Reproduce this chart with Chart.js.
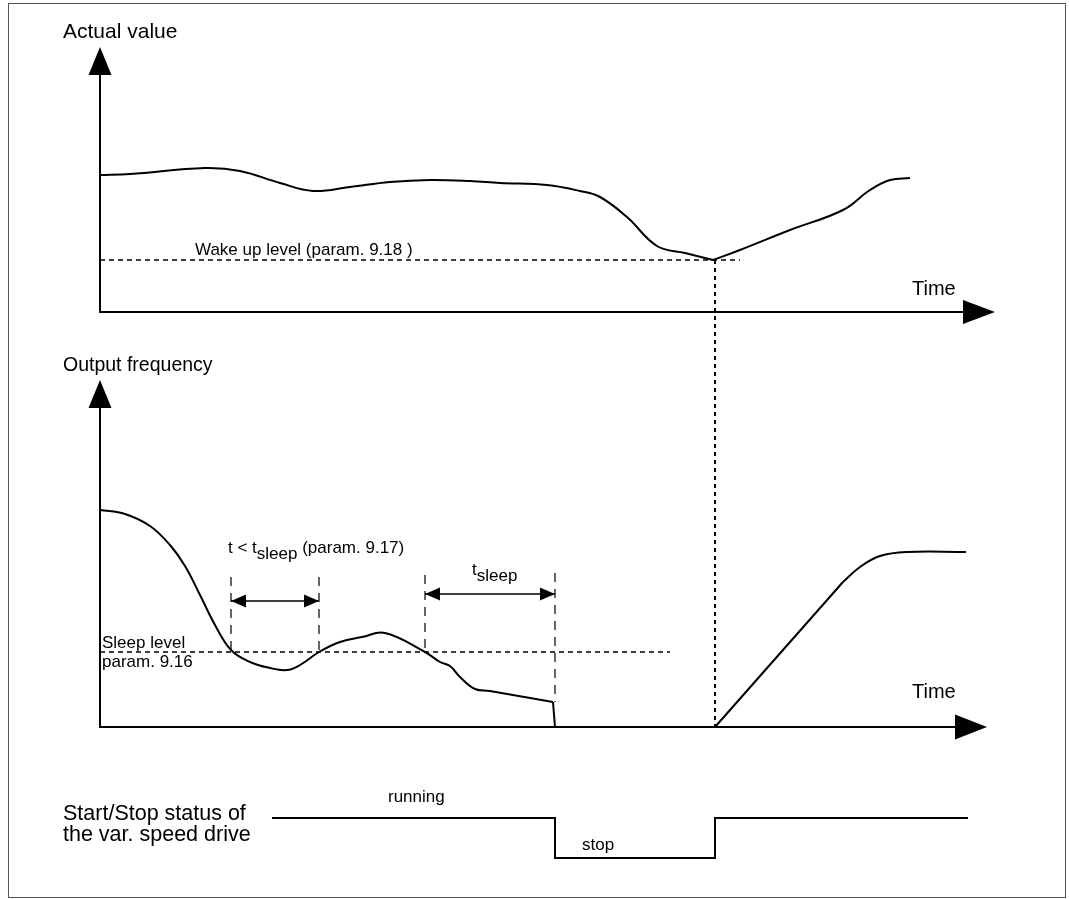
<!DOCTYPE html>
<html>
<head>
<meta charset="utf-8">
<title>Sleep function</title>
<script src="https://cdn.jsdelivr.net/npm/chart.js@4.4.0/dist/chart.umd.min.js"></script>
<style>
  html, body { margin: 0; padding: 0; background: #fff; }
  #wrap { position: relative; width: 1069px; height: 899px; }
  #frame {
    position: absolute; left: 8px; top: 3px; width: 1058px; height: 895px;
    border: 1px solid #555; box-sizing: border-box; pointer-events: none;
  }
</style>
</head>
<body>
<div id="wrap">
  <canvas id="diagram" width="1069" height="899"></canvas>
  <div id="frame"></div>
</div>
<script>
// Actual value (top panel): falling part down to the wake-up point, then rising part
const actualTimeFall  = [0, 3, 10.5, 14, 18, 21.3, 25, 29, 33, 37, 40, 44.7, 48, 50, 52.7, 55.7, 58.5, 61.3];
const actualValueFall = [68.5, 69, 72, 70.5, 64.5, 60.5, 62.5, 65, 66, 65.5, 64.5, 63.5, 60.5, 57.5, 47.5, 33, 29.5, 26];
const actualTimeRise  = [61.3, 64, 69, 74.3, 77, 79, 81];
const actualValueRise = [26, 31, 41, 51, 61, 66, 67];
const wakeLevel = 26;
const wakeLevelEnd = 64;
const wakeTime = 61.5;

// Output frequency (middle panel)
const freqTimeBefore  = [0, 2.5, 5, 7, 8.5, 10, 11.5, 13.1, 15, 17, 18.7, 20, 21.9, 24, 26.2, 28.5, 32.5, 34, 35, 36, 37.5, 39, 45.3];
const freqValueBefore = [108.5, 106.5, 100.5, 91, 80.5, 66, 51, 38.5, 32.5, 29.5, 28.5, 31, 37.5, 42.5, 45, 47, 37.5, 32.5, 30.5, 25, 19, 18, 12.5];
const freqTimeDrop  = [45.3, 45.5];
const freqValueDrop = [12.5, 0];
const freqTimeRamp  = [61.5, 74.3];
const freqValueRamp = [0, 72.5];
const freqTimeTop  = [74.3, 76, 78, 80.7, 86.6];
const freqValueTop = [72.5, 80, 85.5, 87.5, 87.5];
const sleepLevel = 37.5;
const sleepLevelEnd = 57;

// sleep timing marks: t < tsleep, then tsleep
const markTimes  = [13.1, 21.9, 32.5, 45.5];
const markBottom = [38.5, 37.5, 37.5, 12.5];
const markTop    = [75, 75, 76, 77];
const spanStart = [13.1, 32.5];
const spanEnd   = [21.9, 45.5];
const spanLevel = [63, 66.5];

// Start/Stop status (bottom panel): 1 = running, 0 = stop
const statusTime  = [17.2, 45.5, 45.5, 61.5, 61.5, 86.8];
const statusValue = [1, 1, 0, 0, 1, 1];

const FONT = '"Liberation Sans", Arial, sans-serif';

// axis extents in data units: line end and arrow tip
const axisSpec = [
  { y: 'yA', yBase: 118.5, yTip: 132.5, xBase: 86.3, xTip: 89.5, head: 12 },
  { y: 'yF', yBase: 159.5, yTip: 173.5, xBase: 85.5, xTip: 88.7, head: 12.5 }
];

// text annotations, anchored at (time, value) on a panel scale
const notes = [
  { text: 'Actual value', y: 'yA', t: -3.7, v: 137, size: 21 },
  { text: 'Time', y: 'yA', t: 81.2, v: 8.5, size: 20 },
  { text: 'Wake up level (param. 9.18 )', y: 'yA', t: 9.5, v: 28.5, size: 17 },
  { text: 'Output frequency', y: 'yF', t: -3.7, v: 178, size: 19.5 },
  { text: 'Time', y: 'yF', t: 81.2, v: 14.5, size: 20 },
  { text: 'Sleep level', y: 'yF', t: 0.2, v: 39.5, size: 17 },
  { text: 'param. 9.16', y: 'yF', t: 0.2, v: 30, size: 17 },
  { text: 'Start/Stop status of', y: 'yS', t: -3.7, v: 0.94, size: 21.5 },
  { text: 'the var. speed drive', y: 'yS', t: -3.7, v: 0.415, size: 21.5 },
  { text: 'running', y: 'yS', t: 28.8, v: 1.4, size: 17 },
  { text: 'stop', y: 'yS', t: 48.2, v: 0.2, size: 17 }
];

function pts(xs, ys) {
  return xs.map((t, i) => ({ x: t, y: ys[i] }));
}

function line(data, yAxisID, extra) {
  return Object.assign({
    data: data,
    yAxisID: yAxisID,
    borderColor: '#000',
    borderWidth: 2,
    pointRadius: 0,
    fill: false,
    showLine: true,
    tension: 0
  }, extra || {});
}

const curve = { tension: 0.4, borderJoinStyle: 'round' };

const datasets = [
  line(pts(actualTimeFall, actualValueFall), 'yA', curve),
  line(pts(actualTimeRise, actualValueRise), 'yA', curve),
  line([{ x: 0, y: wakeLevel }, { x: wakeLevelEnd, y: wakeLevel }], 'yA', { borderWidth: 1.5, borderDash: [5, 4] }),
  line(pts(freqTimeBefore, freqValueBefore), 'yF', curve),
  line(pts(freqTimeDrop, freqValueDrop), 'yF'),
  line(pts(freqTimeRamp, freqValueRamp), 'yF'),
  line(pts(freqTimeTop, freqValueTop), 'yF', curve),
  line([{ x: 0, y: sleepLevel }, { x: sleepLevelEnd, y: sleepLevel }], 'yF', { borderWidth: 1.5, borderDash: [5, 4] }),
  line(pts(statusTime, statusValue), 'yS')
];

markTimes.forEach((t, i) => {
  datasets.push(line([{ x: t, y: markTop[i] }, { x: t, y: markBottom[i] }], 'yF', { borderWidth: 1.2, borderDash: [9, 7] }));
});
spanStart.forEach((t, i) => {
  datasets.push(line([{ x: t, y: spanLevel[i] }, { x: spanEnd[i], y: spanLevel[i] }], 'yF', { borderWidth: 1.5 }));
});

function arrowHead(ctx, tipX, tipY, baseX, baseY, half) {
  const dx = tipX - baseX, dy = tipY - baseY;
  const len = Math.hypot(dx, dy);
  const nx = -dy / len, ny = dx / len;
  ctx.beginPath();
  ctx.moveTo(tipX, tipY);
  ctx.lineTo(baseX + nx * half, baseY + ny * half);
  ctx.lineTo(baseX - nx * half, baseY - ny * half);
  ctx.closePath();
  ctx.fill();
}

const diagramPlugin = {
  id: 'diagram',
  afterDatasetsDraw(chart) {
    const ctx = chart.ctx;
    const x = chart.scales.x;
    const yF = chart.scales.yF;
    ctx.save();
    ctx.fillStyle = '#000';
    ctx.strokeStyle = '#000';

    // axes with arrows
    axisSpec.forEach(a => {
      const y = chart.scales[a.y];
      const x0 = x.getPixelForValue(0), y0 = y.getPixelForValue(0);
      ctx.lineWidth = 2;
      ctx.setLineDash([]);
      ctx.beginPath();
      ctx.moveTo(x0, y.getPixelForValue(a.yBase));
      ctx.lineTo(x0, y0);
      ctx.lineTo(x.getPixelForValue(a.xBase), y0);
      ctx.stroke();
      arrowHead(ctx, x0, y.getPixelForValue(a.yTip), x0, y.getPixelForValue(a.yBase), 11.5);
      arrowHead(ctx, x.getPixelForValue(a.xTip), y0, x.getPixelForValue(a.xBase), y0, a.head);
    });

    // wake-up moment, dotted from wake level down to the frequency axis
    const wx = x.getPixelForValue(wakeTime);
    ctx.lineWidth = 2;
    ctx.setLineDash([4, 4]);
    ctx.beginPath();
    ctx.moveTo(wx, chart.scales.yA.getPixelForValue(wakeLevel));
    ctx.lineTo(wx, yF.getPixelForValue(0));
    ctx.stroke();
    ctx.setLineDash([]);

    // heads on the timing spans
    spanStart.forEach((t, i) => {
      const py = yF.getPixelForValue(spanLevel[i]);
      const p1 = x.getPixelForValue(t), p2 = x.getPixelForValue(spanEnd[i]);
      arrowHead(ctx, p1, py, p1 + 15, py, 6.5);
      arrowHead(ctx, p2, py, p2 - 15, py, 6.5);
    });

    // plain labels
    ctx.textBaseline = 'alphabetic';
    ctx.textAlign = 'left';
    notes.forEach(n => {
      ctx.font = n.size + 'px ' + FONT;
      ctx.fillText(n.text, x.getPixelForValue(n.t), chart.scales[n.y].getPixelForValue(n.v));
    });

    // labels with subscripts
    function sub(parts, t, v) {
      let px = x.getPixelForValue(t);
      const py = yF.getPixelForValue(v);
      parts.forEach(p => {
        ctx.font = '17px ' + FONT;
        ctx.fillText(p.text, px, py + p.shift);
        px += ctx.measureText(p.text).width;
      });
    }
    sub([{ text: 't < t', shift: 0 }, { text: 'sleep', shift: 6 }, { text: ' (param. 9.17)', shift: 0 }], 12.8, 87);
    sub([{ text: 't', shift: 0 }, { text: 'sleep', shift: 6 }], 37.2, 76);

    ctx.restore();
  }
};

new Chart(document.getElementById('diagram'), {
  type: 'scatter',
  data: { datasets: datasets },
  options: {
    responsive: false,
    animation: false,
    events: [],
    layout: { padding: 0 },
    plugins: { legend: { display: false }, tooltip: { enabled: false } },
    scales: {
      x:  { type: 'linear', min: -10, max: 96.9, display: false },
      yA: { type: 'linear', min: -293.5, max: 156, display: false },
      yF: { type: 'linear', min: -86, max: 363.5, display: false },
      yS: { type: 'linear', min: -1.025, max: 21.45, display: false }
    }
  },
  plugins: [diagramPlugin]
});
</script>
</body>
</html>
